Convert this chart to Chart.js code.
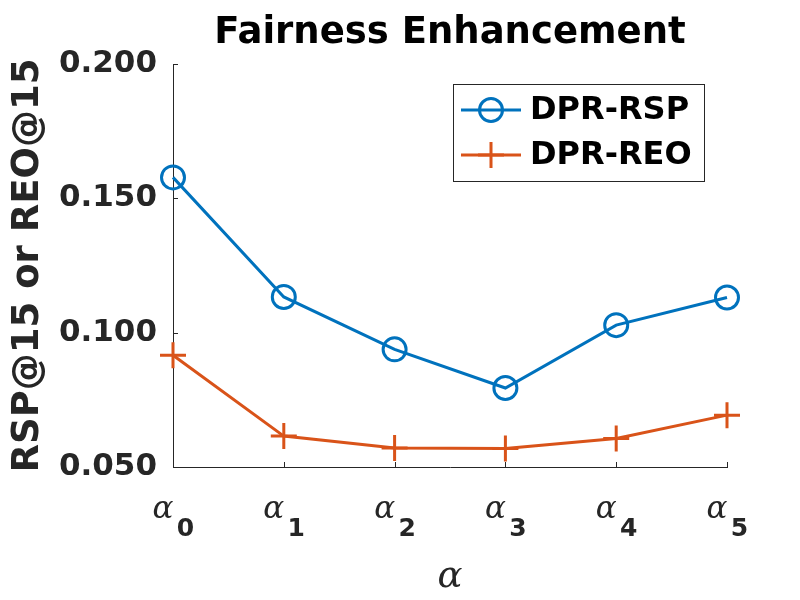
<!DOCTYPE html>
<html>
<head>
<meta charset="utf-8">
<script src="https://cdn.jsdelivr.net/npm/chart.js@4"></script>
<style>
  html, body { margin: 0; padding: 0; background: #fff; }
  #wrap { width: 800px; height: 600px; }
</style>
</head>
<body>
<div id="wrap"><canvas id="fairnessChart"></canvas></div>
<script>
const categories = ['0', '1', '2', '3', '4', '5'];   // subscripts of alpha
const rspValues = [0.1578, 0.1133, 0.0938, 0.0794, 0.1028, 0.1131];
const reoValues = [0.0916, 0.0615, 0.0571, 0.0569, 0.0606, 0.0693];
const yTicks = [0.05, 0.10, 0.15, 0.20];
const seriesNames = ['DPR-RSP', 'DPR-REO'];

const blue = '#0072BD';
const orange = '#D95319';
const axisColor = '#262626';

// MATLAB style inward tick marks
const innerTicks = {
  id: 'innerTicks',
  afterDraw(chart) {
    const ctx = chart.ctx;
    const x = chart.scales.x, y = chart.scales.y;
    const area = chart.chartArea;
    ctx.save();
    ctx.strokeStyle = axisColor;
    ctx.lineWidth = 1;
    ctx.beginPath();
    yTicks.forEach(v => {
      const py = Math.round(y.getPixelForValue(v)) + 0.5;
      ctx.moveTo(area.left, py);
      ctx.lineTo(area.left + 5, py);
    });
    categories.forEach((c, i) => {
      const px = Math.round(x.getPixelForValue(i)) + 0.5;
      ctx.moveTo(px, area.bottom);
      ctx.lineTo(px, area.bottom - 5);
    });
    ctx.stroke();
    ctx.restore();
  }
};

// alpha with bold subscript under each category
const alphaLabels = {
  id: 'alphaLabels',
  afterDraw(chart) {
    const ctx = chart.ctx;
    const x = chart.scales.x;
    const bottom = chart.chartArea.bottom;
    ctx.save();
    ctx.fillStyle = axisColor;
    ctx.textAlign = 'center';
    ctx.textBaseline = 'middle';
    categories.forEach((c, i) => {
      const px = x.getPixelForValue(i);
      ctx.font = 'italic 31px "DejaVu Serif"';
      ctx.fillText('α', px - 10, bottom + 43);
      ctx.font = 'bold 25px "DejaVu Sans"';
      ctx.fillText(c, px + 12.5, bottom + 62);
    });
    ctx.restore();
  }
};

// boxed legend, line sample with marker
const boxLegend = {
  id: 'boxLegend',
  afterDraw(chart) {
    const ctx = chart.ctx;
    const bx = 453, by = 84, bw = 251, bh = 97;
    ctx.save();
    ctx.fillStyle = '#fff';
    ctx.fillRect(bx, by, bw, bh);
    ctx.strokeStyle = axisColor;
    ctx.lineWidth = 1;
    ctx.strokeRect(bx + 0.5, by + 0.5, bw, bh);
    const rows = [by + 26, by + 71];
    chart.data.datasets.forEach((ds, i) => {
      const ry = rows[i];
      ctx.strokeStyle = ds.borderColor;
      ctx.lineWidth = 3;
      ctx.beginPath();
      ctx.moveTo(461, ry);
      ctx.lineTo(521, ry);
      ctx.stroke();
      ctx.beginPath();
      if (ds.pointStyle === 'circle') {
        ctx.arc(491, ry, ds.pointRadius, 0, Math.PI * 2);
      } else {
        ctx.moveTo(491 - ds.pointRadius, ry);
        ctx.lineTo(491 + ds.pointRadius, ry);
        ctx.moveTo(491, ry - ds.pointRadius);
        ctx.lineTo(491, ry + ds.pointRadius);
      }
      ctx.stroke();
      ctx.fillStyle = '#000';
      ctx.font = 'bold 32px "DejaVu Sans"';
      ctx.textAlign = 'left';
      ctx.textBaseline = 'middle';
      ctx.fillText(ds.label, 530, ry + 1);
    });
    ctx.restore();
  }
};

const ctx = document.getElementById('fairnessChart').getContext('2d');
const fairnessChart = new Chart(ctx, {
  type: 'line',
  data: {
    labels: categories,
    datasets: [
      {
        label: seriesNames[0],
        data: rspValues,
        borderColor: blue,
        borderWidth: 3,
        pointStyle: 'circle',
        pointRadius: 11.5,
        pointBorderWidth: 3,
        pointBorderColor: blue,
        pointBackgroundColor: 'rgba(0,0,0,0)',
        tension: 0,
        clip: false
      },
      {
        label: seriesNames[1],
        data: reoValues,
        borderColor: orange,
        borderWidth: 3,
        pointStyle: 'cross',
        pointRadius: 13,
        pointBorderWidth: 3,
        pointBorderColor: orange,
        tension: 0,
        clip: false
      }
    ]
  },
  options: {
    responsive: true,
    maintainAspectRatio: false,
    animation: false,
    devicePixelRatio: 1,
    layout: { padding: { left: 0, right: 73, top: 0, bottom: 0 } },
    scales: {
      x: {
        grid: { drawOnChartArea: false, drawTicks: false },
        border: { display: true, color: axisColor, width: 1 },
        ticks: { display: false },
        title: {
          display: true,
          text: 'α',
          color: axisColor,
          font: { family: 'DejaVu Serif', style: 'italic', size: 37 },
          padding: { top: 0, bottom: 0 }
        },
        afterFit(scale) { scale.height = 133; }
      },
      y: {
        min: 0.05,
        max: 0.2,
        grid: { drawOnChartArea: false, drawTicks: false },
        border: { display: true, color: axisColor, width: 1 },
        afterBuildTicks(scale) { scale.ticks = yTicks.map(v => ({ value: v })); },
        ticks: {
          padding: 16,
          color: axisColor,
          font: { family: 'DejaVu Sans', weight: 'bold', size: 31 },
          callback: v => v.toFixed(3)
        },
        title: {
          display: true,
          text: 'RSP@15 or REO@15',
          color: axisColor,
          font: { family: 'DejaVu Sans', weight: 'bold', size: 37 },
          padding: { top: 6, bottom: 0 }
        },
        afterFit(scale) { scale.width = 173; }
      }
    },
    plugins: {
      legend: { display: false },
      tooltip: { enabled: false },
      title: {
        display: true,
        fullSize: false,
        text: 'Fairness Enhancement',
        color: '#000',
        font: { family: 'DejaVu Sans', weight: 'bold', size: 37, lineHeight: 1.2 },
        padding: { top: 11, bottom: 8.6 }
      }
    }
  },
  plugins: [innerTicks, alphaLabels, boxLegend]
});
</script>
</body>
</html>
